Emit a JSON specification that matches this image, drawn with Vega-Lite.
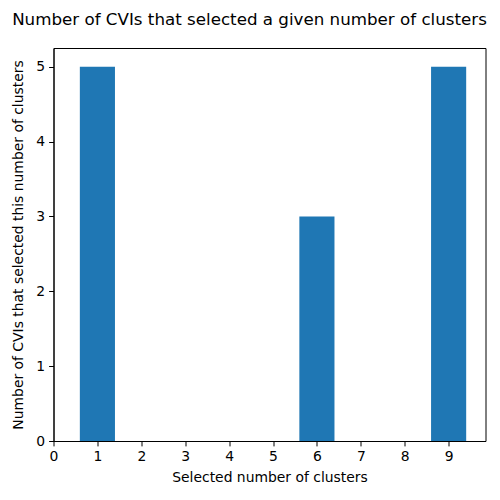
{
  "$schema": "https://vega.github.io/schema/vega-lite/v6.json",
  "autosize": {"type": "none"},
  "padding": {"left": 53.5, "top": 48, "right": 14, "bottom": 59},
  "width": 432,
  "height": 393,
  "background": "white",
  "title": {
    "text": "Number of CVIs that selected a given number of clusters",
    "font": "DejaVu Sans",
    "fontSize": 16.7,
    "fontWeight": "normal",
    "color": "black",
    "anchor": "middle",
    "dx": -20,
    "offset": 19
  },
  "config": {
    "view": {"stroke": "black", "strokeWidth": 1},
    "axis": {
      "labelFont": "DejaVu Sans",
      "labelFontSize": 13.9,
      "labelColor": "black",
      "titleFont": "DejaVu Sans",
      "titleFontSize": 13.9,
      "titleFontWeight": "normal",
      "titleColor": "black",
      "domainColor": "black",
      "tickColor": "black",
      "tickSize": 4.9,
      "labelPadding": 4,
      "grid": false
    }
  },
  "data": {
    "values": [
      {"k": 1, "start": 0.6, "end": 1.4, "count": 5},
      {"k": 2, "start": 1.6, "end": 2.4, "count": 0},
      {"k": 3, "start": 2.6, "end": 3.4, "count": 0},
      {"k": 4, "start": 3.6, "end": 4.4, "count": 0},
      {"k": 5, "start": 4.6, "end": 5.4, "count": 0},
      {"k": 6, "start": 5.6, "end": 6.4, "count": 3},
      {"k": 7, "start": 6.6, "end": 7.4, "count": 0},
      {"k": 8, "start": 7.6, "end": 8.4, "count": 0},
      {"k": 9, "start": 8.6, "end": 9.4, "count": 5}
    ]
  },
  "mark": {"type": "bar", "color": "#1f77b4", "cornerRadius": 0},
  "encoding": {
    "x": {
      "field": "start",
      "type": "quantitative",
      "scale": {"domain": [0, 9.84], "nice": false, "zero": false},
      "axis": {"values": [0,1,2,3,4,5,6,7,8,9], "title": "Selected number of clusters", "titlePadding": 7, "labelFlush": false}
    },
    "x2": {"field": "end"},
    "y": {
      "field": "count",
      "type": "quantitative",
      "scale": {"domain": [0, 5.25], "nice": false},
      "axis": {"values": [0,1,2,3,4,5], "title": "Number of CVIs that selected this number of clusters", "titlePadding": 10, "labelFlush": false}
    },
    "y2": {"datum": 0}
  }
}
